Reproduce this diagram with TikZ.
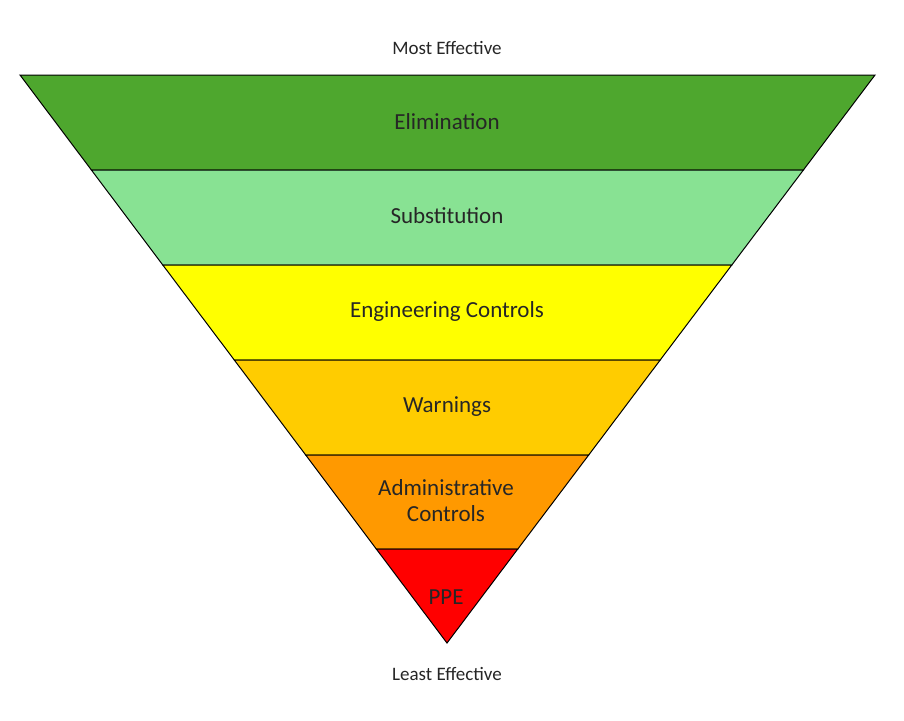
\documentclass[tikz,border=0pt]{standalone}
\usepackage{fontspec}
\setmainfont{Carlito}
\definecolor{cA}{HTML}{4EA72E}
\definecolor{cB}{HTML}{88E293}
\definecolor{cC}{HTML}{FFFF00}
\definecolor{cD}{HTML}{FFCC00}
\definecolor{cE}{HTML}{FF9900}
\definecolor{cF}{HTML}{FF0000}
\begin{document}
\begin{tikzpicture}[x=1pt,y=-1pt,band/.style={draw=black,line width=1pt,line join=miter},
lab/.style={font=\fontsize{23}{26}\selectfont,align=center,text=black!85},
captxt/.style={font=\fontsize{19}{22}\selectfont,text=black!85}]
\useasboundingbox (0,0) rectangle (904,720);
\fill[white] (0,0) rectangle (904,720);
\draw[band,fill=cA] (20,75) -- (875,75) -- (803.4,170) -- (91.4,170) -- cycle;
\draw[band,fill=cB] (91.4,170) -- (803.4,170) -- (731.8,265) -- (162.8,265) -- cycle;
\draw[band,fill=cC] (162.8,265) -- (731.8,265) -- (660.2,360) -- (234.3,360) -- cycle;
\draw[band,fill=cD] (234.3,360) -- (660.2,360) -- (588.7,455) -- (305.7,455) -- cycle;
\draw[band,fill=cE] (305.7,455) -- (588.7,455) -- (517.8,549) -- (376.3,549) -- cycle;
\draw[band,fill=cF] (376.3,549) -- (517.8,549) -- (447,643) -- cycle;
\node[lab] (l1) at (447,122) {Elimination};
\node[lab] (l2) at (447,216) {Substitution};
\node[lab] (l3) at (447,311) {Engineering Controls};
\node[lab] (l4) at (447,407) {Warnings};
\node[lab] (l5) at (446,501) {Administrative\\Controls};
\node[lab] (l6) at (446,597) {PPE};
\node[captxt] (top) at (447,48) {Most Effective};
\node[captxt] (bot) at (447,674) {Least Effective};
\end{tikzpicture}
\end{document}
